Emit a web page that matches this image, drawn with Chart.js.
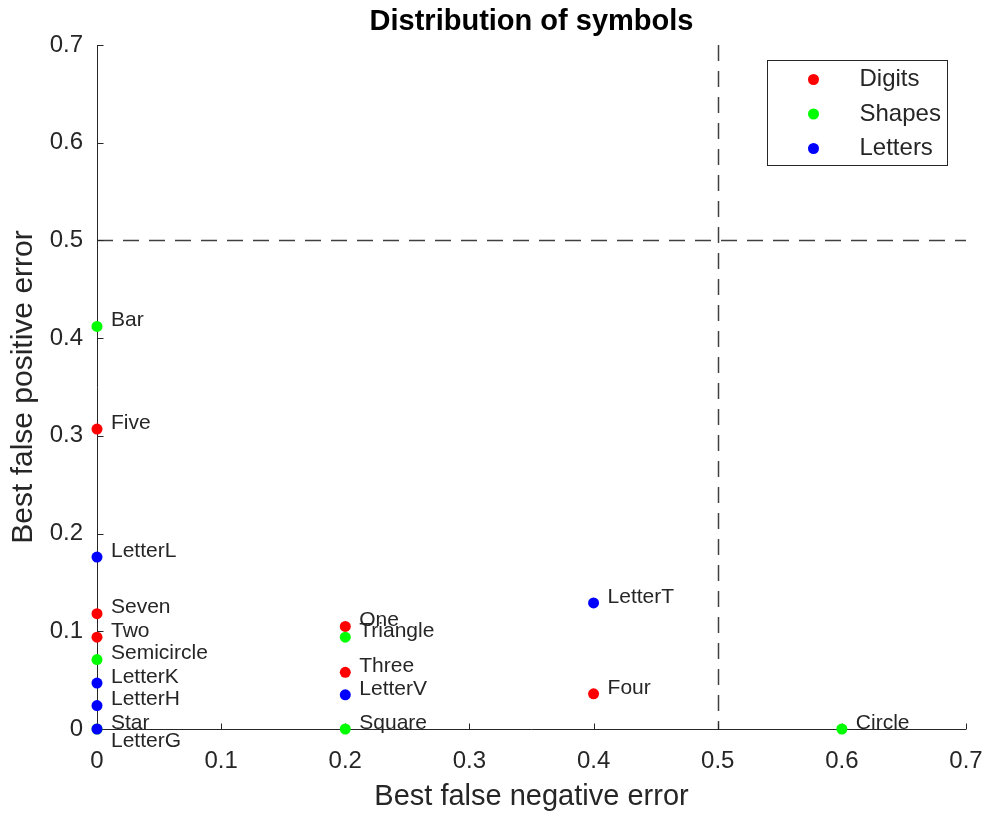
<!DOCTYPE html>
<html>
<head>
<meta charset="utf-8">
<title>Distribution of symbols</title>
<script src="https://cdn.jsdelivr.net/npm/chart.js@4.4.1/dist/chart.umd.min.js"></script>
<style>
  html, body { margin: 0; padding: 0; background: #fff; }
  #wrap { width: 988px; height: 815px; }
</style>
</head>
<body>
<div id="wrap"><canvas id="symbolsChart" width="988" height="815"></canvas></div>
<script>
// data
const digitNames = ['One', 'Two', 'Three', 'Four', 'Five', 'Seven'];
const digitFN = [0.2, 0, 0.2, 0.4, 0, 0];
const digitFP = [0.105, 0.094, 0.058, 0.036, 0.307, 0.118];

const shapeNames = ['Bar', 'Circle', 'Semicircle', 'Square', 'Star', 'Triangle'];
const shapeFN = [0, 0.6, 0, 0.2, 0, 0.2];
const shapeFP = [0.412, 0, 0.071, 0, 0, 0.094];

const letterNames = ['LetterG', 'LetterH', 'LetterK', 'LetterL', 'LetterT', 'LetterV'];
const letterFN = [0, 0, 0, 0, 0.4, 0.2];
const letterFP = [0, 0.024, 0.047, 0.176, 0.129, 0.035];

const seriesNames = ['Digits', 'Shapes', 'Letters'];
const seriesColors = ['#ff0000', '#00ff00', '#0000ff'];

const axisTicks = [0, 0.1, 0.2, 0.3, 0.4, 0.5, 0.6, 0.7];
const thresholdFN = 0.5;
const thresholdFP = 0.5;

const chartTitle = 'Distribution of symbols';

const FONT = '"Liberation Sans", Arial, Helvetica, sans-serif';
const INK = '#262626';

function toPoints(names, xs, ys) {
    return names.map((n, i) => ({ x: xs[i], y: ys[i], name: n }));
}

// labels that were moved under the point so they do not overlap
const labelBelow = { LetterG: true };

// title, axes, inward ticks, dashed threshold lines, point labels and legend
const matlabLook = {
    id: 'matlabLook',
    beforeDatasetsDraw(chart) {
        const { ctx, chartArea: a, scales: { x, y } } = chart;
        ctx.save();

        // title centred over the plot area
        ctx.font = 'bold 29px ' + FONT;
        ctx.fillStyle = '#000';
        ctx.textAlign = 'center';
        ctx.textBaseline = 'middle';
        ctx.fillText(chartTitle, (a.left + a.right) / 2, 22);

        // dashed threshold lines
        ctx.strokeStyle = '#404040';
        ctx.lineWidth = 1.5;
        ctx.setLineDash([16, 10]);
        const tx = Math.round(x.getPixelForValue(thresholdFN)) + 0.5;
        const ty = Math.round(y.getPixelForValue(thresholdFP)) + 0.5;
        ctx.beginPath();
        ctx.moveTo(tx, a.top);
        ctx.lineTo(tx, a.bottom);
        ctx.moveTo(a.left, ty);
        ctx.lineTo(a.right, ty);
        ctx.stroke();
        ctx.setLineDash([]);

        // axis lines at the origin
        ctx.strokeStyle = INK;
        ctx.lineWidth = 1;
        const ox = Math.round(x.getPixelForValue(0)) + 0.5;
        const oy = Math.round(y.getPixelForValue(0)) + 0.5;
        ctx.beginPath();
        ctx.moveTo(ox, a.top);
        ctx.lineTo(ox, oy);
        ctx.lineTo(a.right, oy);
        // inward ticks
        axisTicks.forEach(v => {
            const px = Math.round(x.getPixelForValue(v)) + 0.5;
            ctx.moveTo(px, oy);
            ctx.lineTo(px, oy - 6);
            const py = Math.round(y.getPixelForValue(v)) + 0.5;
            ctx.moveTo(ox, py);
            ctx.lineTo(ox + 6, py);
        });
        ctx.stroke();
        ctx.restore();
    },
    afterDatasetsDraw(chart) {
        const { ctx, scales: { x, y } } = chart;
        ctx.save();
        ctx.font = '21px ' + FONT;
        ctx.fillStyle = INK;
        ctx.textAlign = 'left';
        ctx.textBaseline = 'middle';
        chart.data.datasets.forEach(ds => {
            ds.data.forEach(p => {
                const px = x.getPixelForValue(p.x) + 14;
                const py = y.getPixelForValue(p.y) + (labelBelow[p.name] ? 12 : -6);
                ctx.fillText(p.name, px, py);
            });
        });
        ctx.restore();
    },
    afterDraw(chart) {
        const { ctx, chartArea: a } = chart;
        const boxW = 180, boxH = 105;
        const bx = Math.round(a.right - 19 - boxW) + 0.5;
        const by = Math.round(a.top + 15) + 0.5;
        ctx.save();
        ctx.fillStyle = '#fff';
        ctx.fillRect(bx, by, boxW, boxH);
        ctx.strokeStyle = INK;
        ctx.lineWidth = 1;
        ctx.strokeRect(bx, by, boxW, boxH);
        ctx.font = '24px ' + FONT;
        ctx.textBaseline = 'middle';
        ctx.textAlign = 'left';
        seriesNames.forEach((n, i) => {
            const cy = by + 19 + i * 34.5;
            ctx.fillStyle = seriesColors[i];
            ctx.beginPath();
            ctx.arc(bx + 46, cy, 5.5, 0, Math.PI * 2);
            ctx.fill();
            ctx.fillStyle = INK;
            ctx.fillText(n, bx + 92, cy);
        });
        ctx.restore();
    }
};

const ctx = document.getElementById('symbolsChart');
new Chart(ctx, {
    type: 'scatter',
    data: {
        datasets: [
            { label: seriesNames[0], data: toPoints(digitNames, digitFN, digitFP), backgroundColor: seriesColors[0], order: 2, clip: false },
            { label: seriesNames[1], data: toPoints(shapeNames, shapeFN, shapeFP), backgroundColor: seriesColors[1], order: 1, clip: false },
            { label: seriesNames[2], data: toPoints(letterNames, letterFN, letterFP), backgroundColor: seriesColors[2], order: 0, clip: false }
        ]
    },
    options: {
        responsive: false,
        animation: false,
        layout: { padding: { left: 0, right: 22, top: 45, bottom: 0 } },
        elements: { point: { radius: 5.5, borderWidth: 0, hoverRadius: 5.5 } },
        plugins: {
            legend: { display: false },
            tooltip: { enabled: false },
            title: { display: false }
        },
        scales: {
            x: {
                type: 'linear',
                min: 0,
                max: 0.7,
                afterBuildTicks: s => { s.ticks = axisTicks.map(v => ({ value: v })); },
                afterFit: s => { s.height = 86; s.paddingLeft = 0; s.paddingRight = 0; },
                grid: { display: false, drawTicks: false },
                border: { display: false },
                ticks: {
                    color: INK,
                    padding: 18,
                    maxRotation: 0,
                    font: { family: FONT, size: 24 },
                    callback: v => String(+v.toFixed(1))
                },
                title: {
                    display: true,
                    text: 'Best false negative error',
                    color: INK,
                    font: { family: FONT, size: 29 },
                    padding: { top: 0, bottom: 1 }
                }
            },
            y: {
                type: 'linear',
                min: 0,
                max: 0.7,
                afterBuildTicks: s => { s.ticks = axisTicks.map(v => ({ value: v })); },
                afterFit: s => { s.width = 97; s.paddingTop = 0; s.paddingBottom = 0; },
                grid: { display: false, drawTicks: false },
                border: { display: false },
                ticks: {
                    color: INK,
                    padding: 14,
                    font: { family: FONT, size: 24 },
                    callback: v => String(+v.toFixed(1))
                },
                title: {
                    display: true,
                    text: 'Best false positive error',
                    color: INK,
                    font: { family: FONT, size: 30 },
                    padding: { top: 6, bottom: 0 }
                }
            }
        }
    },
    plugins: [matlabLook]
});
</script>
</body>
</html>
